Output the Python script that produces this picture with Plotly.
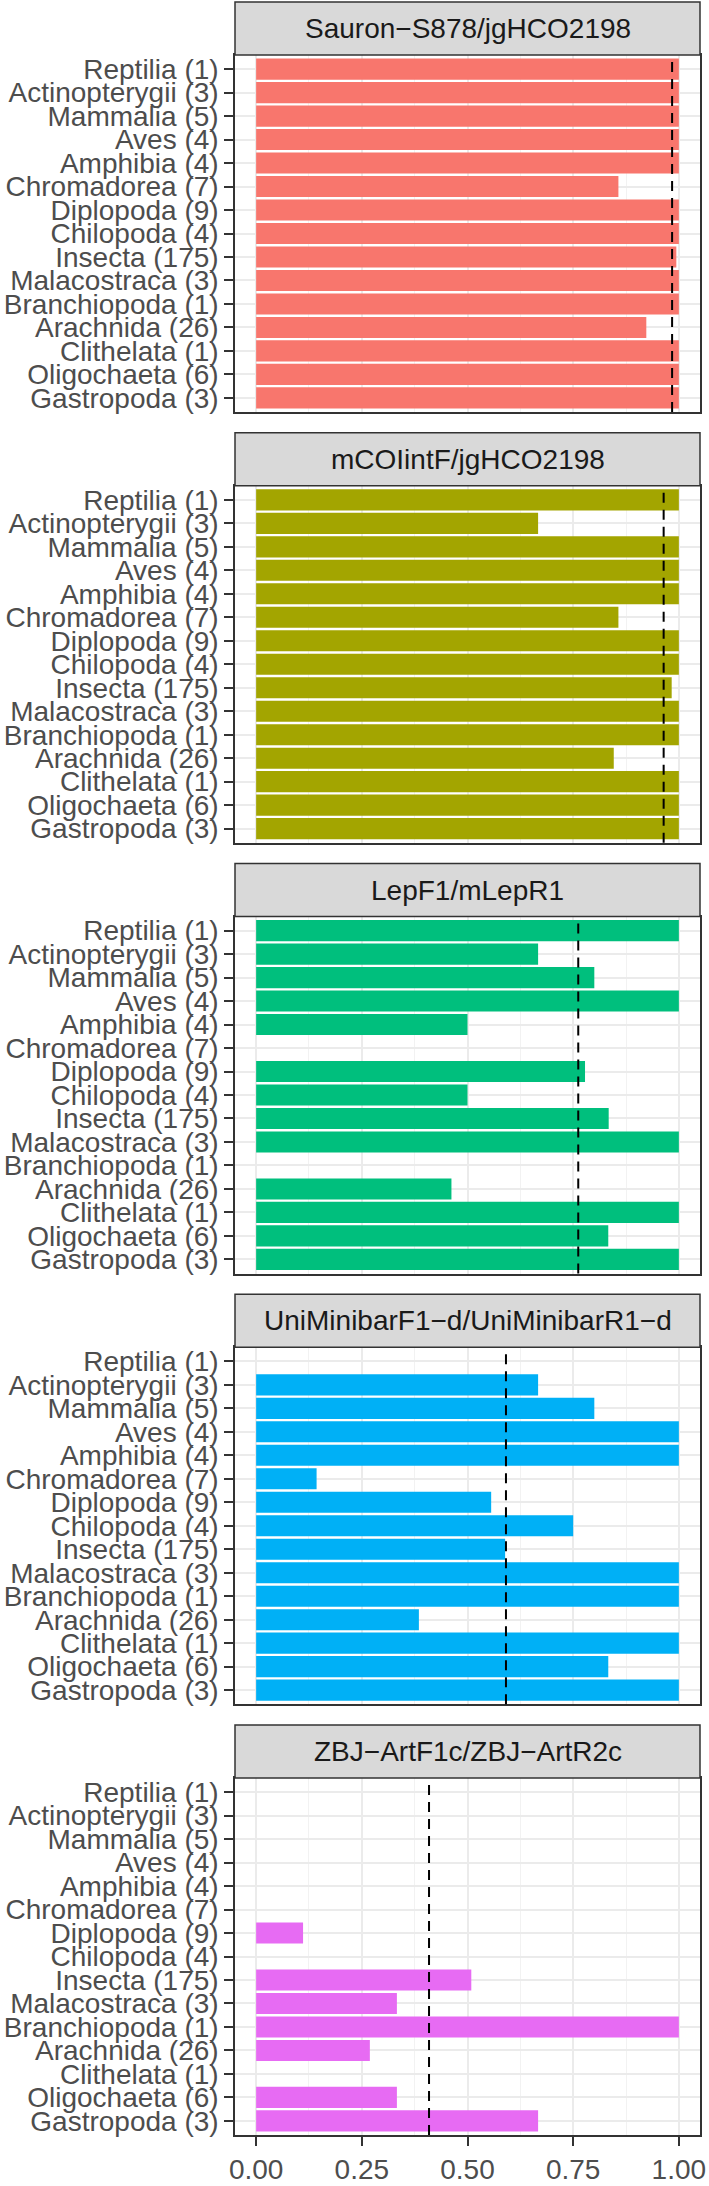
import plotly.graph_objects as go
from plotly.subplots import make_subplots

# taxonomic classes (number of species in brackets), top to bottom
classes = ["Reptilia (1)", "Actinopterygii (3)", "Mammalia (5)", "Aves (4)", "Amphibia (4)",
           "Chromadorea (7)", "Diplopoda (9)", "Chilopoda (4)", "Insecta (175)", "Malacostraca (3)",
           "Branchiopoda (1)", "Arachnida (26)", "Clithelata (1)", "Oligochaeta (6)", "Gastropoda (3)"]

primers = ["Sauron\u2212S878/jgHCO2198", "mCOIintF/jgHCO2198", "LepF1/mLepR1",
           "UniMinibarF1\u2212d/UniMinibarR1\u2212d", "ZBJ\u2212ArtF1c/ZBJ\u2212ArtR2c"]

sauron = [1, 1, 1, 1, 1, 0.857, 1, 1, 0.994, 1, 1, 0.923, 1, 1, 1]
mcoiintf = [1, 0.667, 1, 1, 1, 0.857, 1, 1, 0.983, 1, 1, 0.846, 1, 1, 1]
lepf1 = [1, 0.667, 0.8, 1, 0.5, 0, 0.778, 0.5, 0.834, 1, 0, 0.462, 1, 0.833, 1]
uniminibar = [0, 0.667, 0.8, 1, 1, 0.143, 0.556, 0.75, 0.589, 1, 1, 0.385, 1, 0.833, 1]
zbj = [0, 0, 0, 0, 0, 0, 0.111, 0, 0.509, 0.333, 1, 0.269, 0, 0.333, 0.667]
values = [sauron, mcoiintf, lepf1, uniminibar, zbj]

# overall proportion (dashed line) per primer pair
overall = [0.984, 0.964, 0.762, 0.591, 0.409]

colors = ["#F8766D", "#A3A500", "#00BF7D", "#00B0F6", "#E76BF3"]

W, H = 709, 2186
ml, mr, mt, mb = 235, 9, 0, 51
ph = H - mt - mb          # plot area height in px
first_top, pitch, panel_h, strip_h = 55, 430.75, 357, 53

fig = make_subplots(rows=5, cols=1)
font = "Liberation Sans, Arial, sans-serif"

for i in range(5):
    r = i + 1
    fig.add_trace(go.Bar(y=classes, x=values[i], orientation="h",
                         marker=dict(color=colors[i], line=dict(width=0)),
                         showlegend=False), row=r, col=1)
    top = first_top + i * pitch
    bot = top + panel_h
    y0 = (ph - bot) / ph
    y1 = (ph - top) / ph
    sfx = "" if r == 1 else str(r)
    fig.layout["yaxis" + sfx].domain = [y0, y1]
    fig.update_yaxes(row=r, col=1, type="category", categoryorder="array", categoryarray=classes,
                     range=[14.6, -0.6], tickmode="array", tickvals=classes, ticktext=classes,
                     ticks="outside", ticklen=9, tickwidth=1.5, tickcolor="#333333",
                     tickfont=dict(family=font, size=28, color="#4D4D4D"),
                     showgrid=True, gridcolor="#EBEBEB", gridwidth=1.5,
                     showline=True, mirror=True, linecolor="#333333", linewidth=1.5,
                     zeroline=False, fixedrange=True)
    last = r == 5
    fig.update_xaxes(row=r, col=1, range=[-0.05, 1.05], tickmode="array",
                     tickvals=[0, 0.25, 0.5, 0.75, 1.0],
                     ticktext=["0.00", "0.25", "0.50", "0.75", "1.00"],
                     showticklabels=last, ticks="outside" if last else "", ticklen=9,
                     tickwidth=1.5, tickcolor="#333333",
                     tickfont=dict(family=font, size=28, color="#4D4D4D"),
                     showgrid=True, gridcolor="#EBEBEB", gridwidth=1.5,
                     minor=dict(tickmode="array", tickvals=[0.125, 0.375, 0.625, 0.875],
                                showgrid=True, gridcolor="#F2F2F2", gridwidth=1),
                     showline=True, mirror=True, linecolor="#333333", linewidth=1.5,
                     zeroline=False, fixedrange=True)
    # facet strip
    fig.add_shape(type="rect", xref="paper", yref="paper", x0=0, x1=1,
                  y0=y1, y1=(ph - top + strip_h) / ph,
                  fillcolor="#D9D9D9", line=dict(color="#333333", width=1.5))
    fig.add_annotation(xref="paper", yref="paper", x=0.5, y=(ph - top + strip_h / 2) / ph,
                       text=primers[i], showarrow=False, xanchor="center", yanchor="middle",
                       font=dict(family=font, size=28, color="#1A1A1A"))
    # overall proportion
    xr = "x" + sfx
    fig.add_shape(type="line", xref=xr, yref=("y" + sfx) + " domain",
                  x0=overall[i], x1=overall[i], y0=0, y1=1,
                  line=dict(color="black", width=2, dash="10px,7px"))

fig.update_layout(width=W, height=H, margin=dict(l=ml, r=mr, t=mt, b=mb),
                  bargap=0.1, plot_bgcolor="white", paper_bgcolor="white")

# page body has a default 8px margin; drop it so the figure fills the window
fig.write_html("out.html", config=dict(displayModeBar=False),
               post_script="document.body.style.margin='0';")
